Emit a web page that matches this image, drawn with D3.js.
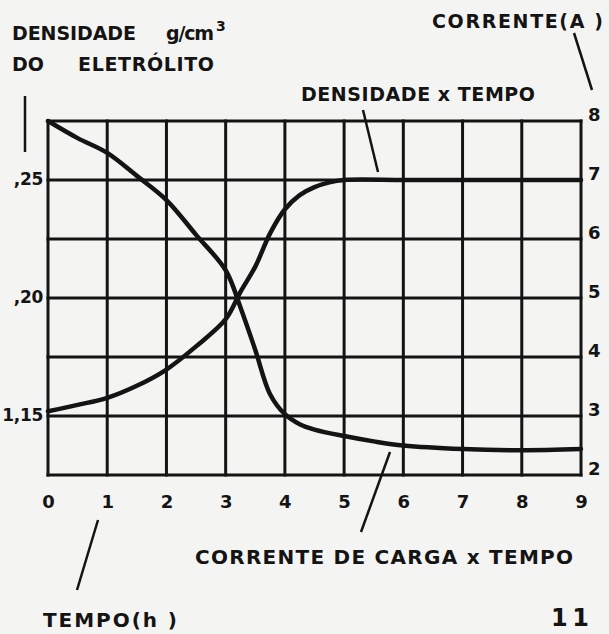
<!DOCTYPE html>
<html>
<head>
<meta charset="utf-8">
<script src="https://cdn.jsdelivr.net/npm/d3@7"></script>
<style>
  html, body { margin: 0; padding: 0; background: #f4f4f2; }
  svg { display: block; }
  text { font-family: "DejaVu Sans", sans-serif; font-weight: bold; fill: #141414; }
</style>
</head>
<body>
<script>
// ---- data ----
const timeTicks = [0, 1, 2, 3, 4, 5, 6, 7, 8, 9];
const densityTicks = [1.15, 1.20, 1.25];
const densityTickLabels = ["1,15", ",20", ",25"];
const currentTicks = [2, 3, 4, 5, 6, 7, 8];

const densityTime   = [0, 0.5, 1, 1.5, 2, 2.5, 3, 3.25, 3.5, 3.75, 4, 4.25, 4.5, 4.75, 5, 6, 7, 8, 9];
const densityValues = [1.152, 1.1547, 1.1577, 1.1628, 1.1697, 1.1795, 1.191, 1.2026, 1.2133, 1.2274, 1.2376, 1.2436, 1.247, 1.249, 1.25, 1.25, 1.25, 1.25, 1.25];

const currentTime   = [0, 0.5, 1, 1.5, 2, 2.5, 3, 3.25, 3.5, 3.75, 4, 4.25, 4.5, 5, 5.5, 6, 7, 8, 9];
const currentValues = [8.0, 7.71, 7.46, 7.07, 6.66, 6.07, 5.47, 4.84, 4.12, 3.37, 3.03, 2.86, 2.77, 2.66, 2.57, 2.5, 2.44, 2.42, 2.44];

// ---- layout ----
const W = 609, H = 634;
const mLeft = 48, mRight = 581, mTop = 121, mBottom = 475;
const ink = "#141414";
const FONT = "'DejaVu Sans', sans-serif";

const svg = d3.select("body").append("svg").attr("width", W).attr("height", H);
svg.append("rect").attr("width", W).attr("height", H).attr("fill", "#f4f4f2");

const x = d3.scaleLinear().domain([0, 9]).range([mLeft, mRight]);
const yD = d3.scaleLinear().domain([1.125, 1.275]).range([mBottom, mTop]);
const yC = d3.scaleLinear().domain([2, 8]).range([mBottom, mTop]);

// grid
const grid = svg.append("g").attr("stroke", ink).attr("stroke-width", 3).attr("stroke-linecap", "square");
grid.selectAll("line.v").data(timeTicks).join("line").attr("class", "v")
  .attr("x1", d => x(d)).attr("x2", d => x(d)).attr("y1", mTop).attr("y2", mBottom);
grid.selectAll("line.h").data(currentTicks).join("line").attr("class", "h")
  .attr("x1", mLeft).attr("x2", mRight).attr("y1", d => yC(d)).attr("y2", d => yC(d));

// axes (labels only)
const xAxis = svg.append("g").attr("transform", `translate(0,${mBottom})`)
  .call(d3.axisBottom(x).tickValues(timeTicks).tickSize(0).tickPadding(20).tickFormat(d3.format("d")));
const lAxis = svg.append("g").attr("transform", `translate(${mLeft},0)`)
  .call(d3.axisLeft(yD).tickValues(densityTicks).tickSize(0).tickPadding(5)
    .tickFormat((d, i) => densityTickLabels[i]));
const rAxis = svg.append("g").attr("transform", `translate(${mRight},0)`)
  .call(d3.axisRight(yC).tickValues(currentTicks).tickSize(0).tickPadding(7).tickFormat(d3.format("d")));
[xAxis, lAxis, rAxis].forEach(a => {
  a.select(".domain").remove();
  a.selectAll("text").attr("fill", ink).style("font-size", "18px")
    .style("font-family", FONT).style("font-weight", "bold");
});
xAxis.selectAll("text").attr("dy", "0.71em").attr("y", 20);
lAxis.selectAll("text").attr("dy", "0.25em").style("font-size", "17px").style("letter-spacing", "-0.3px");
rAxis.selectAll("text").attr("dy", "-0.05em");

// curves
const lineD = d3.line().x((d, i) => x(densityTime[i])).y(d => yD(d)).curve(d3.curveCatmullRom.alpha(0.5));
const lineC = d3.line().x((d, i) => x(currentTime[i])).y(d => yC(d)).curve(d3.curveCatmullRom.alpha(0.5));
svg.append("path").attr("d", lineD(densityValues)).attr("fill", "none")
  .attr("stroke", ink).attr("stroke-width", 4.5).attr("stroke-linecap", "round");
svg.append("path").attr("d", lineC(currentValues)).attr("fill", "none")
  .attr("stroke", ink).attr("stroke-width", 4.5).attr("stroke-linecap", "round");

// labels
function label(txt, px, py, size, len) {
  const t = svg.append("text").attr("x", px).attr("y", py).style("font-size", size + "px").text(txt);
  if (len) t.attr("textLength", len).attr("lengthAdjust", "spacing");
  return t;
}
label("DENSIDADE", 12, 40, 19, 124);
label("g/cm", 166, 40, 19, 48);
label("3", 216, 31, 14);
label("DO", 12, 71, 19);
label("ELETRÓLITO", 78, 71, 19, 136);

label("CORRENTE(A )", 432, 28, 19, 171);
label("DENSIDADE x TEMPO", 301, 101, 19, 234);
label("CORRENTE DE CARGA x TEMPO", 195, 564, 20, 378);
label("TEMPO(h )", 43, 627, 20, 134);
label("11", 551, 626, 24, 38);

// leader lines
const leaders = [
  [25, 96, 25, 152],
  [574, 33, 592, 90],
  [363, 110, 378, 172],
  [390, 452, 361, 532],
  [98, 520, 77, 590]
];
svg.append("g").selectAll("line").data(leaders).join("line")
  .attr("x1", d => d[0]).attr("y1", d => d[1]).attr("x2", d => d[2]).attr("y2", d => d[3])
  .attr("stroke", ink).attr("stroke-width", 2.5);
</script>
</body>
</html>
